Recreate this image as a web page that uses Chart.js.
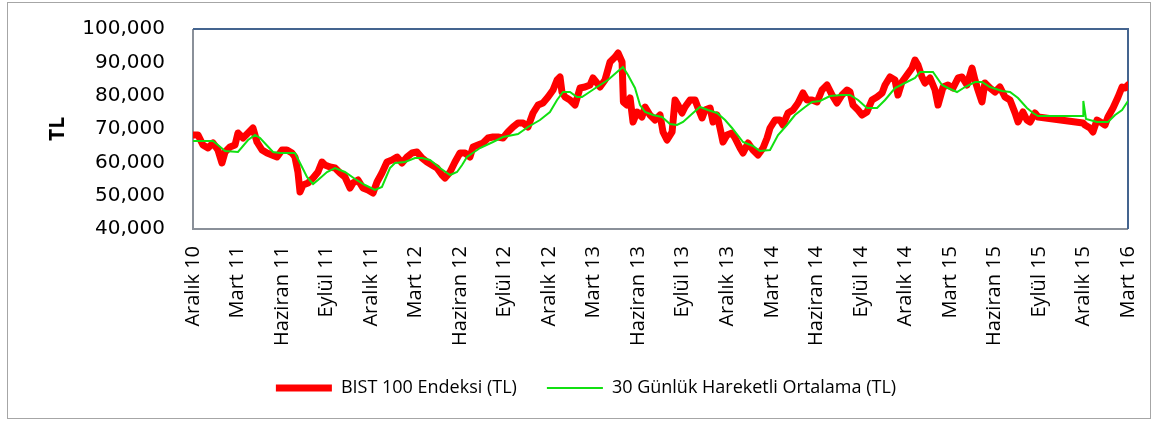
<!DOCTYPE html>
<html>
<head>
<meta charset="utf-8">
<script src="https://cdn.jsdelivr.net/npm/chart.js@4.4.1/dist/chart.umd.min.js"></script>
<style>
  html, body { margin: 0; padding: 0; background: #fff; }
  #wrap { position: relative; width: 1154px; height: 421px; }
  #frame { position: absolute; left: 7px; top: 2px; width: 1142px; height: 415px; border: 1px solid #a6a6a6; pointer-events: none; }
</style>
</head>
<body>
<div id="wrap">
  <canvas id="bist" width="1154" height="421"></canvas>
  <div id="frame"></div>
</div>
<script>
// x = months since Aralık 2010
const tickLabels = ['Aralık 10', 'Mart 11', 'Haziran 11', 'Eylül 11', 'Aralık 11', 'Mart 12', 'Haziran 12', 'Eylül 12',
  'Aralık 12', 'Mart 13', 'Haziran 13', 'Eylül 13', 'Aralık 13', 'Mart 14', 'Haziran 14', 'Eylül 14',
  'Aralık 14', 'Mart 15', 'Haziran 15', 'Eylül 15', 'Aralık 15', 'Mart 16'];

const redMonths = [0, 0.34, 0.67, 1.01, 1.35, 1.68, 1.95, 2.16, 2.49, 2.83, 3.03, 3.37, 3.71, 4.04, 4.31, 4.65, 4.99, 5.32, 5.66, 6.00,
  6.33, 6.67, 6.87, 7.07, 7.21, 7.41, 7.75, 8.09, 8.42, 8.69, 8.89, 9.23, 9.57, 9.91, 10.24, 10.58, 10.78, 11.12, 11.45, 11.79,
  12.13, 12.40, 12.73, 13.07, 13.41, 13.75, 14.08, 14.42, 14.76, 15.09, 15.43, 15.77, 16.10, 16.44, 16.78, 16.98, 17.32, 17.65, 17.99, 18.33,
  18.66, 18.87, 19.20, 19.54, 19.88, 20.21, 20.55, 20.89, 21.22, 21.56, 21.90, 22.24, 22.57, 22.91, 23.25, 23.58, 23.92, 24.26, 24.53, 24.73,
  24.86, 25.07, 25.40, 25.74, 26.08, 26.41, 26.75, 26.95, 27.22, 27.42, 27.76, 28.10, 28.44, 28.64, 28.91, 29.00, 29.24, 29.45, 29.65, 29.92,
  30.25, 30.46, 30.79, 31.13, 31.47, 31.67, 31.94, 32.28, 32.48, 32.68, 32.95, 33.15, 33.49, 33.83, 34.03, 34.30, 34.50, 34.84, 35.04, 35.31,
  35.51, 35.71, 35.98, 36.32, 36.52, 36.86, 37.06, 37.40, 37.73, 38.07, 38.41, 38.68, 38.88, 39.22, 39.55, 39.75, 40.09, 40.43, 40.77, 41.10,
  41.37, 41.71, 42.05, 42.38, 42.72, 43.06, 43.39, 43.73, 44.07, 44.27, 44.47, 44.81, 45.08, 45.41, 45.75, 46.09, 46.43, 46.63, 46.96, 47.30,
  47.50, 47.77, 48.11, 48.45, 48.65, 48.85, 49.12, 49.32, 49.66, 50.00, 50.20, 50.54, 50.87, 51.21, 51.55, 51.82, 52.15, 52.49, 52.69, 52.89,
  53.16, 53.36, 53.70, 54.04, 54.37, 54.71, 55.05, 55.39, 55.59, 55.92, 56.19, 56.40, 56.73, 56.94, 59.97, 60.10, 60.44, 60.64, 60.91, 61.25,
  61.45, 61.65, 61.99, 62.33, 62.60, 62.80, 63.00];

const redValues = [68200, 68200, 65200, 64300, 65800, 63700, 59800, 63100, 64600, 65200, 68800, 67300, 68800, 70300, 66100, 63700, 62800, 62200, 61600, 63700,
  63700, 62800, 61600, 57100, 51100, 53200, 53800, 55300, 57100, 60100, 59200, 58600, 58300, 56800, 55600, 52300, 53800, 54700, 52300, 51700,
  50800, 54100, 56800, 60100, 60700, 61600, 59800, 61600, 62800, 63100, 61300, 60100, 59200, 58300, 56200, 55300, 57100, 60100, 62800, 62800,
  61600, 64600, 65200, 65800, 67300, 67600, 67600, 67300, 69100, 70600, 71800, 71800, 70600, 74800, 77200, 77800, 79600, 81700, 84700, 85600,
  81100, 79600, 78700, 77200, 82300, 82600, 83200, 85300, 83800, 82600, 84700, 90100, 91600, 92800, 90100, 78100, 77200, 79300, 72100, 75100,
  73600, 76600, 74200, 72700, 74200, 69100, 66700, 69100, 78700, 77200, 74800, 76600, 78700, 78700, 76300, 73300, 75700, 76300, 72100, 74200,
  70300, 66100, 68200, 68800, 67300, 64300, 62800, 65800, 63700, 62200, 64300, 67300, 70300, 72700, 72700, 71200, 74800, 75700, 77800, 80800,
  78700, 78700, 78100, 81700, 83200, 80200, 77800, 80200, 81700, 81100, 77200, 75700, 74200, 75100, 78700, 79600, 80800, 83200, 85600, 84700,
  80200, 84100, 86200, 88300, 90700, 89200, 85600, 83800, 85300, 81700, 77200, 82600, 83200, 82300, 85300, 85600, 83200, 88300, 84700, 81700,
  78100, 83800, 82300, 81100, 82600, 79600, 78700, 74800, 72100, 75100, 72700, 72100, 74800, 73600, 71800, 71200, 70300, 69100, 72700, 71800,
  71200, 73600, 76300, 79600, 82600, 82300, 83200];

const greenMonths = [0, 1.35, 1.68, 2.16, 3.03, 3.71, 4.18, 4.52, 5.39, 5.86, 6.87, 7.21, 7.68, 8.09, 8.42, 9.03, 9.57, 10.24, 10.92, 11.59,
  12.26, 12.73, 13.27, 13.61, 14.28, 14.96, 15.43, 15.97, 16.64, 17.32, 17.79, 18.13, 18.46, 19.34, 20.21, 20.89, 21.90, 22.57, 23.38, 24.05,
  24.53, 24.93, 25.40, 25.87, 26.21, 26.62, 27.22, 27.96, 28.57, 28.97, 29.31, 29.78, 30.12, 30.46, 31.00, 31.60, 32.14, 32.61, 33.02, 33.69,
  34.16, 34.70, 35.31, 35.85, 36.32, 37.06, 37.73, 38.20, 38.88, 39.42, 40.02, 40.56, 41.24, 41.71, 42.25, 42.92, 43.73, 44.27, 44.81, 45.41,
  46.09, 46.63, 47.30, 47.97, 48.65, 48.99, 49.86, 50.47, 50.87, 51.48, 52.02, 52.69, 53.16, 53.70, 54.51, 55.05, 55.59, 56.19, 56.60, 56.94,
  59.97, 59.99, 60.17, 60.91, 61.65, 62.13, 62.60, 63.00];

const greenValues = [66400, 66400, 65200, 63400, 63100, 66700, 68200, 67300, 63100, 62800, 62800, 59800, 55600, 53500, 54700, 57100, 58300, 57100, 55000, 53200,
  51700, 52600, 58300, 59800, 60100, 61300, 61300, 60700, 58300, 56200, 57100, 59200, 61600, 64300, 66100, 67600, 68500, 70600, 72700, 75100,
  78700, 81100, 81100, 79600, 79600, 80800, 82600, 84700, 87100, 88600, 86200, 82300, 77200, 75100, 74200, 73600, 71500, 71200, 72100, 74800,
  76600, 75700, 74800, 72700, 70300, 66100, 64900, 63400, 63700, 68200, 71200, 74200, 76600, 78100, 78400, 79900, 80200, 80200, 78700, 76300,
  76300, 78700, 82300, 83800, 85300, 87100, 87100, 83200, 82300, 81100, 82600, 84100, 84100, 82600, 81400, 81100, 79300, 76300, 74800, 73900,
  73900, 78400, 73000, 72100, 72100, 74200, 75700, 78400];

const toPoints = (xs, ys) => xs.map((x, i) => ({ x: x, y: ys[i] }));

// plot border: blue top/right, grey left/bottom
const plotBorder = {
  id: 'plotBorder',
  beforeDatasetsDraw(chart) {
    const { ctx, chartArea: a } = chart;
    ctx.save();
    ctx.lineWidth = 2;
    ctx.strokeStyle = '#8a9099';
    ctx.beginPath();
    ctx.moveTo(a.left, a.top);
    ctx.lineTo(a.left, a.bottom);
    ctx.lineTo(a.right, a.bottom);
    ctx.stroke();
    ctx.strokeStyle = '#44648f';
    ctx.beginPath();
    ctx.moveTo(a.left, a.top);
    ctx.lineTo(a.right, a.top);
    ctx.lineTo(a.right, a.bottom);
    ctx.stroke();
    ctx.restore();
  }
};

Chart.defaults.color = '#000';
Chart.defaults.font.family = '"Open Sans", sans-serif';

new Chart(document.getElementById('bist'), {
  type: 'line',
  data: {
    datasets: [{
      label: 'BIST 100 Endeksi (TL)',
      data: toPoints(redMonths, redValues),
      borderColor: '#ff0000',
      backgroundColor: '#ff0000',
      borderWidth: 7,
      borderCapStyle: 'round',
      borderJoinStyle: 'round',
      pointRadius: 0,
      order: 1
    }, {
      label: '30 Günlük Hareketli Ortalama (TL)',
      data: toPoints(greenMonths, greenValues),
      borderColor: '#11e011',
      backgroundColor: '#11e011',
      borderWidth: 2,
      pointRadius: 0,
      order: 0
    }]
  },
  options: {
    responsive: false,
    animation: false,
    layout: { padding: { left: 44, top: 29, right: 26, bottom: 14 } },
    plugins: {
      tooltip: { enabled: false },
      legend: {
        position: 'bottom',
        labels: {
          usePointStyle: true,
          pointStyle: 'line',
          pointStyleWidth: 56,
          boxWidth: 56,
          padding: 30,
          font: { size: 18 },
          sort: (a, b) => a.datasetIndex - b.datasetIndex
        }
      }
    },
    scales: {
      x: {
        type: 'linear',
        min: 0,
        max: 63,
        grid: { display: false, drawTicks: false },
        border: { display: false },
        afterFit: (scale) => {
          scale.height = 120;
          scale.paddingLeft = 0;
          scale.paddingRight = 0;
        },
        ticks: {
          stepSize: 3,
          autoSkip: false,
          maxRotation: 90,
          minRotation: 90,
          padding: 17,
          font: { size: 20 },
          callback: (v) => tickLabels[Math.round(v / 3)]
        }
      },
      y: {
        min: 40000,
        max: 100000,
        grid: { display: false, drawTicks: false },
        border: { display: false },
        afterFit: (scale) => {
          scale.width = 149;
          scale.paddingTop = 0;
          scale.paddingBottom = 0;
        },
        title: {
          display: true,
          text: 'TL',
          font: { size: 21, weight: 'bold' },
          padding: { top: 1, bottom: 0 }
        },
        ticks: {
          stepSize: 10000,
          padding: 28,
          font: { family: '"DejaVu Sans", sans-serif', size: 20 },
          callback: (v) => v.toLocaleString('en-US')
        }
      }
    }
  },
  plugins: [plotBorder]
});
</script>
</body>
</html>
